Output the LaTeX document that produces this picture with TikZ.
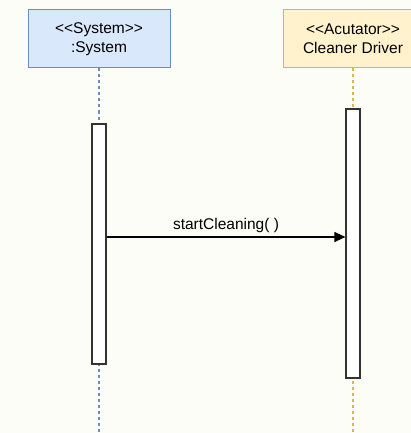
\documentclass[tikz,border=0pt]{standalone}
\usepackage{fontspec}
\setmainfont{Liberation Sans}[Ligatures=NoCommon]
\usetikzlibrary{arrows.meta}
\definecolor{bg}{HTML}{FDFDF8}
\definecolor{bluefill}{HTML}{DAE8FC}
\definecolor{bluestroke}{HTML}{6C8EBF}
\definecolor{yelfill}{HTML}{FFF2CC}
\definecolor{yelstroke}{HTML}{D6B656}
\definecolor{barline}{HTML}{333333}
\tikzset{
  txt/.style={font=\fontsize{15.5}{19}\selectfont},
  lifehead/.style={draw, line width=1pt, align=center, txt, inner sep=0pt},
  lifeline/.style={dashed, dash pattern=on 3pt off 3pt, line width=1.2pt},
  actbar/.style={draw=barline, fill=white, line width=1.2pt},
  msg/.style={-{Triangle[length=11pt,width=10pt]}, line width=1.2pt, draw=black}
}
\begin{document}
\begin{tikzpicture}[x=1pt,y=-1pt]
\fill[bg] (0,0) rectangle (411,433);
\useasboundingbox (0,0) rectangle (411,433);
% heads
\node[lifehead, draw=bluestroke, fill=bluefill, minimum width=142pt, minimum height=58pt] (sys) at (99,39) {{<}{<}System{>}{>}\\:System};
\node[lifehead, draw=yelstroke, fill=yelfill, minimum width=140pt, minimum height=58pt] (drv) at (353,39) {{<}{<}Acutator{>}{>}\\Cleaner Driver};
% lifelines
\coordinate (sysend) at (99,433);
\coordinate (drvend) at (353,433);
\draw[lifeline, bluestroke] (sys.south) -- (sysend);
\draw[lifeline, yelstroke] (drv.south) -- (drvend);
% activation bars
\node[actbar, minimum width=14pt, minimum height=240pt, inner sep=0pt] (sysbar) at (99,244) {};
\node[actbar, minimum width=14pt, minimum height=269pt, inner sep=0pt] (drvbar) at (353,243.5) {};
% message
\coordinate (m1) at (sysbar.east |- 0,237);
\coordinate (m2) at (drvbar.west |- 0,237);
\draw[msg] (m1) -- node[above=3pt, txt, inner sep=1pt] (lbl) {startCleaning( )} (m2);
\end{tikzpicture}
\end{document}
